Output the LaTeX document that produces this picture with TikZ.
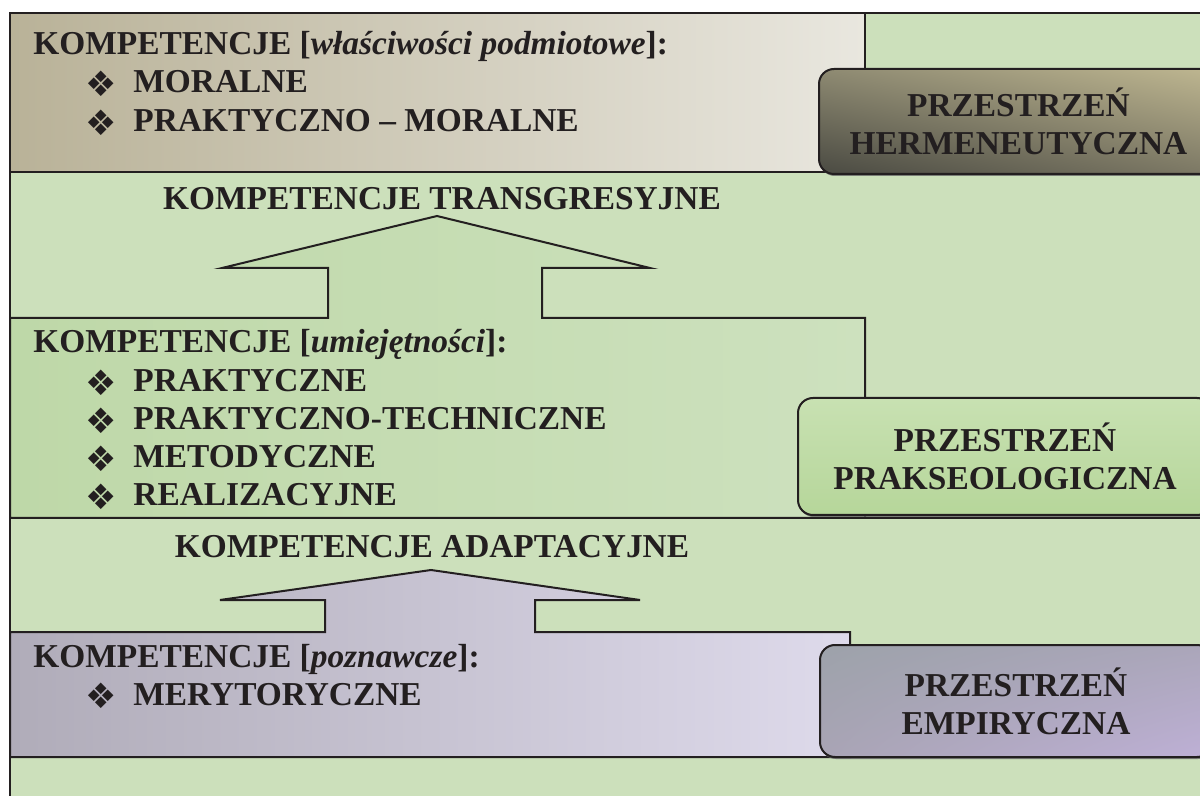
\documentclass[tikz,border=0pt]{standalone}
\usepackage{fontspec}
\setmainfont{Liberation Serif}
\newfontfamily\symfont{DejaVu Sans}
\usetikzlibrary{shadows,shadings}

\definecolor{ink}{HTML}{231F20}
\definecolor{bggreen}{HTML}{CCE0BB}
\definecolor{beigeL}{HTML}{B9B298}
\definecolor{beigeR}{HTML}{E9E7DF}
\definecolor{arrgreenL}{HTML}{BED8A8}
\definecolor{arrgreenM}{HTML}{B4D49B}
\definecolor{arrgreenR}{HTML}{CDE1BE}
\definecolor{lilacL}{HTML}{B0ACB9}
\definecolor{lilacR}{HTML}{DEDAEB}
\definecolor{hermUL}{HTML}{8E8A72}
\definecolor{hermUR}{HTML}{BFB791}
\definecolor{hermLL}{HTML}{4A4A42}
\definecolor{hermLR}{HTML}{7E7A66}
\definecolor{praxT}{HTML}{C8E1B2}
\definecolor{praxM}{HTML}{8DC065}
\definecolor{praxB}{HTML}{B6D69A}
\definecolor{empUL}{HTML}{9DA2AA}
\definecolor{empUR}{HTML}{ABA6BA}
\definecolor{empLL}{HTML}{A9A4B5}
\definecolor{empLR}{HTML}{BEB0D6}

\newcommand{\bigfont}{\fontsize{16.7}{19}\selectfont\bfseries}
\newcommand{\itm}[1]{\makebox[24pt][l]{\raisebox{-1.8pt}{\symfont\fontsize{17.5}{17.5}\selectfont ❖}}#1}

\begin{document}
\begin{tikzpicture}[x=0.5pt, y=-0.5pt,
  rim/.style={draw=ink, line width=1pt},
  txt/.style={anchor=base west, inner sep=0pt, text=ink, font=\bigfont},
  head/.style={anchor=base, inner sep=0pt, text=ink, font=\bigfont},
  space/.style={rim, rounded corners=7.5pt, align=center, inner sep=0pt,
    text=ink, font=\bigfont,
    drop shadow={shadow xshift=0.4pt, shadow yshift=-1pt, fill=black!60, opacity=.8}},
]
\useasboundingbox (0,0) rectangle (1200,796);
\clip (0,0) rectangle (1200,796);
% tlo
\fill[white] (0,0) rectangle (1200,796);
\fill[bggreen] (10,13) rectangle (1220,810);
% blok gorny
\shade[rim, left color=beigeL, right color=beigeR] (10,13) rectangle (865,172);
% strzalka srodkowa
\shade[rim, left color=arrgreenL, middle color=arrgreenM, right color=arrgreenR]
  (10,518) -- (10,318) -- (328,318) -- (328,268) -- (222,268) -- (437,216)
  -- (650,268) -- (542,268) -- (542,318) -- (865,318) -- (865,518) -- cycle;
% strzalka dolna
\shade[rim, left color=lilacL, right color=lilacR]
  (10,757) -- (10,632) -- (325,632) -- (325,600) -- (220,600) -- (431,570)
  -- (640,600) -- (535,600) -- (535,632) -- (850,632) -- (850,757) -- cycle;
% linie poziome i ramka
\draw[rim] (10,810) -- (10,13) -- (1220,13);
\draw[rim] (10,172) -- (1220,172) (10,518) -- (1220,518) (10,757) -- (1220,757);

% przestrzenie
\node[space, shade, upper left=hermUL, upper right=hermUR, lower left=hermLL, lower right=hermLR,
  minimum width=199.5pt, minimum height=52.5pt] (herm) at (1018.5,121.5) {PRZESTRZEŃ\\HERMENEUTYCZNA};
\node[space, shade, top color=praxT, middle color=praxM, bottom color=praxB,
  minimum width=207pt, minimum height=58.5pt] (prax) at (1005,456.5) {PRZESTRZEŃ\\PRAKSEOLOGICZNA};
\node[space, shade, upper left=empUL, upper right=empUR, lower left=empLL, lower right=empLR,
  minimum width=196pt, minimum height=56pt] (emp) at (1016,701) {PRZESTRZEŃ\\EMPIRYCZNA};

% kompetencje
\node[txt] (wlasc) at (33,55) {KOMPETENCJE [\textit{właściwości podmiotowe}]:};
\node[txt] (moral) at (85,93) {\itm{MORALNE}};
\node[txt] (pmoral) at (85,132) {\itm{PRAKTYCZNO – MORALNE}};

\node[head] (trans) at (442,210) {KOMPETENCJE TRANSGRESYJNE};

\node[txt] (umiej) at (33,353) {KOMPETENCJE [\textit{umiejętności}]:};
\node[txt] (prakt) at (85,392) {\itm{PRAKTYCZNE}};
\node[txt] (ptech) at (85,430) {\itm{PRAKTYCZNO-TECHNICZNE}};
\node[txt] (metod) at (85,468) {\itm{METODYCZNE}};
\node[txt] (realiz) at (85,506) {\itm{REALIZACYJNE}};

\node[head] (adapt) at (432,558) {KOMPETENCJE ADAPTACYJNE};

\node[txt] (pozn) at (33,667) {KOMPETENCJE [\textit{poznawcze}]:};
\node[txt] (meryt) at (85,705) {\itm{MERYTORYCZNE}};
\end{tikzpicture}
\end{document}
